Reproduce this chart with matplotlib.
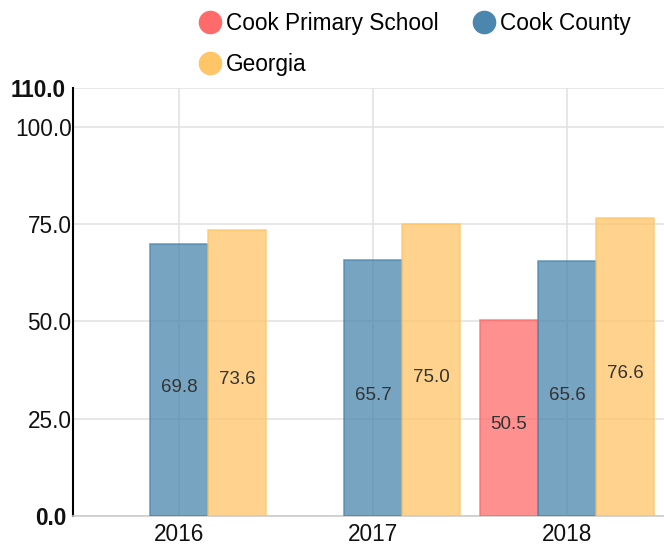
import numpy as np
import matplotlib.pyplot as plt
from matplotlib.lines import Line2D

plt.rcParams['font.family'] = ['Liberation Sans', 'DejaVu Sans']

years = ["2016", "2017", "2018"]
school = [np.nan, np.nan, 50.5]
county = [69.8, 65.7, 65.6]
georgia = [73.6, 75.0, 76.6]
yticks = [0, 25, 50, 75, 100, 110]

series = [
    ("Cook Primary School", school, "#ff6b6b"),
    ("Cook County", county, "#4a86ad"),
    ("Georgia", georgia, "#ffc567"),
]

fig = plt.figure(figsize=(6.64, 5.47), dpi=100)
ax = fig.add_axes([73 / 664, 31 / 547, 1 - 73 / 664, 428 / 547])

x = np.arange(len(years))
w = 0.3
for i, (name, vals, col) in enumerate(series):
    vals = np.array(vals, dtype=float)
    pos = x + (i - 1) * w
    ax.bar(pos, vals, width=w, color=col, alpha=0.75, edgecolor=col,
           linewidth=1.2, zorder=3)
    for p, v in zip(pos, vals):
        if np.isnan(v):
            continue
        ax.text(p, v / 2 - 1.8, f"{v:.1f}", ha="center", va="center",
                fontsize=13.5, color="#333333", zorder=4)

ax.set_xlim(-0.546, 2.5)
ax.set_ylim(0, 110)
ax.set_yticks(yticks)
# min and max labels are bold and sit a bit further from the axis
ax.set_yticklabels(["" if t in (0, 110) else f"{t:.1f}" for t in yticks])
for t in (0, 110):
    ax.text(-0.012, t, f"{t:.1f}", transform=ax.get_yaxis_transform(),
            ha="right", va="center_baseline", fontsize=16.3,
            fontweight="bold", color="#111111")
ax.set_xticks(x)
ax.set_xticklabels(years)
ax.tick_params(axis="both", length=0, labelsize=16.3, colors="#111111")
ax.tick_params(axis="y", pad=1)
ax.tick_params(axis="x", pad=5)
ax.grid(True, color="#e3e3e3", linewidth=1.2, zorder=0)
ax.set_axisbelow(True)
for s in ("top", "right"):
    ax.spines[s].set_visible(False)
ax.spines["left"].set_color("black")
ax.spines["left"].set_linewidth(1.5)
ax.spines["bottom"].set_color("#cccccc")
ax.spines["bottom"].set_linewidth(1.2)

# legend fills column-wise, so order items to read row by row
order = [0, 2, 1]
handles = [Line2D([], [], marker="o", linestyle="none", markersize=16,
                  markerfacecolor=series[k][2], markeredgecolor=series[k][2])
           for k in order]
fig.legend(handles, [series[k][0] for k in order], ncol=2, frameon=False,
           loc="upper left", bbox_to_anchor=(199 / 664, 1 - 12 / 547),
           fontsize=16.3, handlelength=1.0, handletextpad=0.2,
           columnspacing=1.5, labelspacing=0.8, borderpad=0,
           borderaxespad=0)

fig.savefig("out.png", dpi=100)
